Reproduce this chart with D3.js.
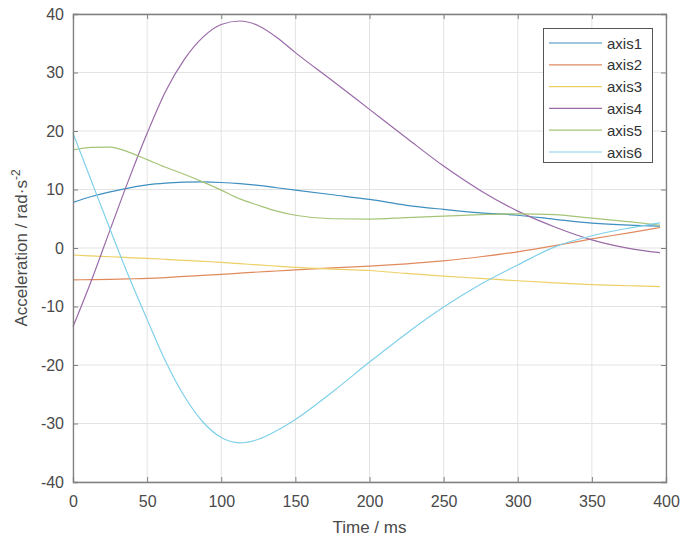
<!DOCTYPE html>
<html>
<head>
<meta charset="utf-8">
<script src="https://cdn.jsdelivr.net/npm/d3@7"></script>
<style>
  html, body { margin: 0; padding: 0; background: #fff; }
  svg { display: block; font-family: "Liberation Sans", Arial, sans-serif; }
</style>
</head>
<body>
<svg id="chart" width="685" height="545"></svg>
<script>
// ---- data ----
const time = [0, 12.5, 25, 37.5, 50, 62.5, 75, 87.5, 100, 112.5, 125, 137.5, 150, 175, 200, 225, 250, 275, 300, 325, 350, 375, 396];
const axis1 = [7.8, 8.8, 9.6, 10.25, 10.8, 11.1, 11.25, 11.3, 11.2, 11.0, 10.7, 10.3, 9.9, 9.1, 8.3, 7.3, 6.6, 6.0, 5.6, 4.9, 4.25, 3.9, 3.75];
const axis2 = [-5.45, -5.4, -5.35, -5.28, -5.2, -5.05, -4.85, -4.68, -4.5, -4.3, -4.1, -3.93, -3.75, -3.4, -3.1, -2.7, -2.2, -1.5, -0.65, 0.4, 1.55, 2.6, 3.5];
const axis3 = [-1.2, -1.35, -1.5, -1.63, -1.77, -1.93, -2.1, -2.27, -2.45, -2.67, -2.9, -3.1, -3.3, -3.6, -3.85, -4.35, -4.8, -5.2, -5.6, -5.95, -6.25, -6.45, -6.6];
const axis4 = [-13.45, -5.5, 3.1, 11.6, 19.6, 26.8, 32.2, 36.0, 38.2, 38.8, 38.0, 36.0, 33.4, 28.6, 23.7, 18.8, 14.0, 9.8, 6.3, 3.6, 1.4, -0.05, -0.8];
const axis5 = [16.75, 17.2, 17.25, 16.4, 15.1, 13.8, 12.6, 11.3, 9.9, 8.4, 7.3, 6.3, 5.6, 5.0, 4.95, 5.2, 5.45, 5.7, 5.85, 5.7, 5.1, 4.5, 3.9];
const axis6 = [19.6, 11.4, 3.2, -4.8, -12.2, -19.4, -25.3, -29.7, -32.4, -33.3, -32.7, -31.2, -29.3, -24.6, -19.5, -14.6, -10.1, -6.2, -2.9, 0.2, 2.1, 3.4, 4.3];
const seriesNames = ["axis1", "axis2", "axis3", "axis4", "axis5", "axis6"];
const seriesValues = [axis1, axis2, axis3, axis4, axis5, axis6];
const xTicks = [0, 50, 100, 150, 200, 250, 300, 350, 400];
const yTicks = [-40, -30, -20, -10, 0, 10, 20, 30, 40];
const colors = ["#3f8fc0", "#e08a5e", "#ecd066", "#9a6aa8", "#a6c477", "#80d0ea"];

// ---- layout ----
const svg = d3.select("#chart");
const L = 73, R = 666, T = 14, B = 482;
const x = d3.scaleLinear().domain([0, 400]).range([L, R]);
const y = d3.scaleLinear().domain([-40, 40]).range([B, T]);
const axisColor = "#808080", textColor = "#4a4a4a";

// grid
const grid = svg.append("g");
grid.selectAll(".gx").data(xTicks).join("line")
  .attr("x1", d => x(d)).attr("x2", d => x(d)).attr("y1", T).attr("y2", B)
  .attr("stroke", "#e3e3e3").attr("stroke-width", 1);
grid.selectAll(".gy").data(yTicks).join("line")
  .attr("y1", d => y(d)).attr("y2", d => y(d)).attr("x1", L).attr("x2", R)
  .attr("stroke", "#e3e3e3").attr("stroke-width", 1);

// lines
const line = d3.line().x((d, i) => x(time[i])).y(d => y(d)).curve(d3.curveMonotoneX);
svg.append("g").selectAll("path").data(seriesValues).join("path")
  .attr("d", d => line(d)).attr("fill", "none")
  .attr("stroke", (d, i) => colors[i]).attr("stroke-width", 1.2);

// axes (ticks inside, box)
const tl = 5;
const fmt = d => String(d);
const gBottom = svg.append("g").attr("transform", `translate(0,${B})`)
  .call(d3.axisBottom(x).tickValues(xTicks).tickFormat(fmt).tickSize(-tl).tickPadding(14));
const gTop = svg.append("g").attr("transform", `translate(0,${T})`)
  .call(d3.axisTop(x).tickValues(xTicks).tickSize(-tl).tickFormat(""));
const gLeft = svg.append("g").attr("transform", `translate(${L},0)`)
  .call(d3.axisLeft(y).tickValues(yTicks).tickFormat(fmt).tickSize(-tl).tickPadding(9));
const gRight = svg.append("g").attr("transform", `translate(${R},0)`)
  .call(d3.axisRight(y).tickValues(yTicks).tickSize(-tl).tickFormat(""));
[gBottom, gTop, gLeft, gRight].forEach(g => {
  g.select(".domain").attr("stroke", axisColor).attr("stroke-width", 1.3);
  g.selectAll(".tick line").attr("stroke", axisColor).attr("stroke-width", 1);
  g.selectAll(".tick text").attr("fill", textColor).attr("font-size", 16)
    .attr("font-family", "Liberation Sans, Arial, sans-serif");
});

// axis labels
svg.append("text").attr("x", (L + R) / 2).attr("y", 533).attr("text-anchor", "middle")
  .attr("fill", textColor).attr("font-size", 17).text("Time / ms");
const yl = svg.append("text").attr("transform", `translate(27,${(T + B) / 2}) rotate(-90)`)
  .attr("text-anchor", "middle").attr("fill", textColor).attr("font-size", 17);
yl.append("tspan").text("Acceleration / rad·s");
yl.append("tspan").attr("font-size", 12).attr("dy", -7).text("-2");

// legend
const lg = svg.append("g");
lg.append("rect").attr("x", 543.5).attr("y", 28.5).attr("width", 109).attr("height", 134)
  .attr("fill", "#fff").attr("stroke", "#555").attr("stroke-width", 1);
const rows = lg.selectAll(".row").data(seriesNames).join("g")
  .attr("transform", (d, i) => `translate(0,${43 + i * 21.8})`);
rows.append("line").attr("x1", 549).attr("x2", 602).attr("y1", 0).attr("y2", 0)
  .attr("stroke", (d, i) => colors[i]).attr("stroke-width", 1.2);
rows.append("text").attr("x", 607).attr("y", 5.5).attr("fill", "#333").attr("font-size", 15).text(d => d);
</script>
</body>
</html>
